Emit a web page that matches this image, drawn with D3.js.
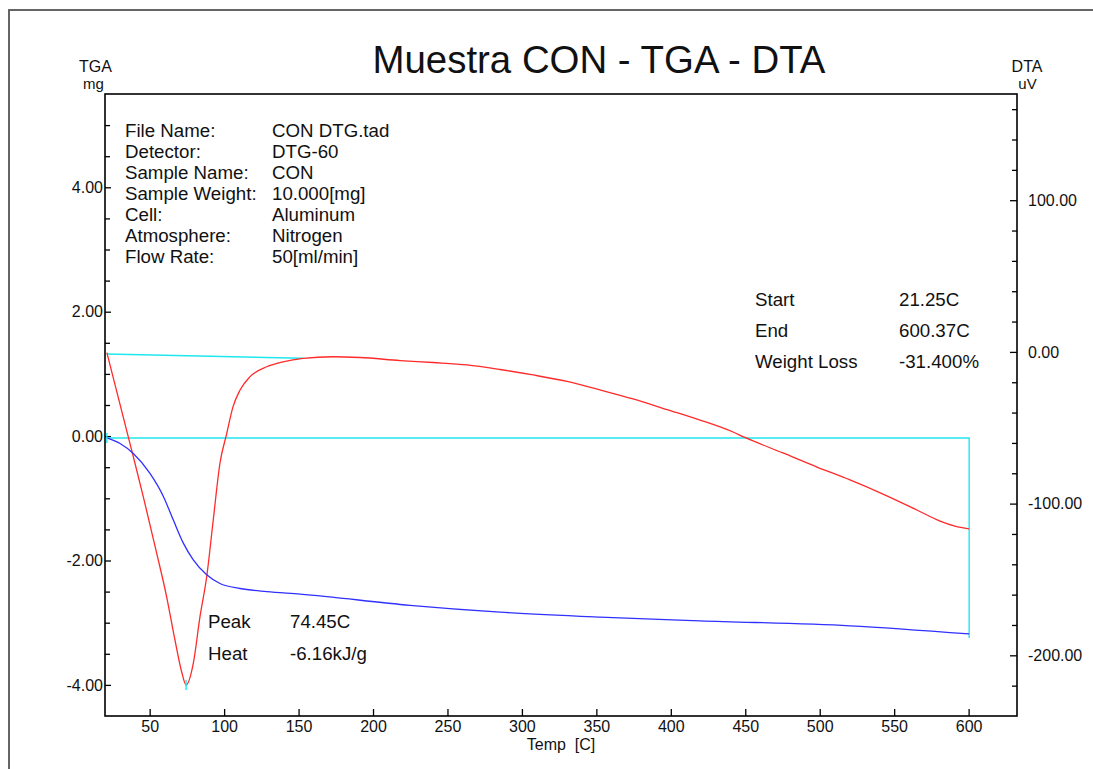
<!DOCTYPE html>
<html>
<head>
<meta charset="utf-8">
<script src="https://cdn.jsdelivr.net/npm/d3@7/dist/d3.min.js"></script>
<style>
  html, body { margin: 0; padding: 0; background: #fff; }
  svg { display: block; font-family: "Liberation Sans", Arial, sans-serif; }
  .axis path.domain { display: none; }
  .axis line { stroke: #000; stroke-width: 1.3; }
  .axis text { font-size: 16px; fill: #111; font-family: "Liberation Sans", Arial, sans-serif; }
</style>
</head>
<body>
<svg id="chart" width="1093" height="769"></svg>
<script>
// TGA curve: temperature [C] and mass change [mg]
const tgaTemp = [21.25, 30.1, 39.0, 50.2, 59.2, 65.9, 72.6, 79.3, 88.3, 97.2, 110.7, 128.6, 151.0, 224.8, 285.3, 352.4, 419.6, 520.3, 600.37];
const tgaMass = [-0.03, -0.12, -0.28, -0.60, -0.97, -1.35, -1.72, -1.99, -2.23, -2.37, -2.45, -2.50, -2.54, -2.72, -2.83, -2.91, -2.97, -3.05, -3.18];

// DTA curve: temperature [C] and signal [uV]
const dtaTemp = [21.25, 37.9, 45.7, 54.7, 61.4, 67.0, 71.5, 74.45, 79.3, 83.8, 88.3, 92.7, 97.2, 101.7, 106.0, 110.7, 117.4, 128.6, 139.5, 153.0, 173.1, 191.3, 218.1, 240.3, 263.1, 285.3, 307.4, 330.3, 352.4, 374.6, 397.4, 419.6, 441.8, 449.8, 475.3, 498.2, 520.3, 542.5, 565.3, 580.8, 590.8, 600.37];
const dtaSignal = [-0.5, -64.7, -95.4, -132.6, -161.4, -190.0, -211.0, -219.6, -205.3, -174.5, -148.2, -110.8, -73.4, -54.0, -36.1, -25.1, -16.3, -9.8, -6.5, -4.2, -3.2, -3.7, -5.7, -7.0, -8.6, -11.6, -15.2, -19.5, -25.1, -31.0, -38.0, -44.9, -52.8, -56.4, -66.6, -75.9, -84.4, -93.7, -104.2, -111.5, -114.8, -116.7];

// Peak integration baseline on the DTA curve
const dtaBaseTemp = [21.25, 153.0];
const dtaBaseSignal = [-1.4, -4.2];

// Weight-loss analysis range on the TGA curve
const tgaStartTemp = 21.25;
const tgaEndTemp = 600.37;
const tgaStartMass = -0.03;
const tgaEndMass = -3.18;
const peakTemp = 74.45;
const peakSignal = -219.6;

// Tick values
const tempTicks = [50, 100, 150, 200, 250, 300, 350, 400, 450, 500, 550, 600];
const tgaTicks = [-4, -2, 0, 2, 4];
const dtaTicks = [-200, -100, 0, 100];

// Text blocks
const infoLabels = ["File Name:", "Detector:", "Sample Name:", "Sample Weight:", "Cell:", "Atmosphere:", "Flow Rate:"];
const infoValues = ["CON DTG.tad", "DTG-60", "CON", "10.000[mg]", "Aluminum", "Nitrogen", "50[ml/min]"];
const rangeLabels = ["Start", "End", "Weight Loss"];
const rangeValues = ["21.25C", "600.37C", "-31.400%"];
const peakLabels = ["Peak", "Heat"];
const peakValues = ["74.45C", "-6.16kJ/g"];

const svg = d3.select("#chart");
const L = 105, R = 1017, T = 94, B = 716;

const x = d3.scaleLinear().domain([20, 632.5]).range([L, R]);
const yL = d3.scaleLinear().domain([-4.5, 5.5]).range([B, T]);
const yR = d3.scaleLinear().domain([-240, 170]).range([B, T]);
const fmt = d => d3.format(".2f")(d).replace("\u2212", "-");

// outer page frame
svg.append("rect")
  .attr("x", 9).attr("y", 10).attr("width", 1100).attr("height", 800)
  .attr("fill", "none").attr("stroke", "#555").attr("stroke-width", 1.8);

// title
svg.append("text")
  .attr("x", 599).attr("y", 73)
  .attr("text-anchor", "middle")
  .attr("font-size", 38.4).attr("fill", "#111")
  .text("Muestra CON - TGA - DTA");

// axis titles
const axTitle = (tx, ty, s, fs) => svg.append("text")
  .attr("x", tx).attr("y", ty).attr("text-anchor", "middle")
  .attr("font-size", fs).attr("fill", "#111").text(s);
axTitle(95.5, 72, "TGA", 16);
axTitle(93.5, 89, "mg", 15);
axTitle(1027, 72, "DTA", 16);
axTitle(1027.5, 89, "uV", 15);

// left axis (TGA)
const tgaMinor = d3.range(-4, 5.01, 0.5).filter(v => !tgaTicks.includes(v));
svg.append("g").attr("class", "axis").attr("transform", `translate(${L},0)`)
  .call(d3.axisRight(yL).tickValues(tgaMinor).tickSize(5).tickFormat(""));
svg.append("g").attr("class", "axis").attr("transform", `translate(${L},0)`)
  .call(d3.axisLeft(yL).tickValues(tgaTicks).tickSize(-6).tickPadding(2).tickFormat(fmt));

// right axis (DTA)
const dtaMinor = d3.range(-220, 161, 20).filter(v => !dtaTicks.includes(v));
svg.append("g").attr("class", "axis").attr("transform", `translate(${R},0)`)
  .call(d3.axisLeft(yR).tickValues(dtaMinor).tickSize(5).tickFormat(""));
svg.append("g").attr("class", "axis").attr("transform", `translate(${R},0)`)
  .call(d3.axisRight(yR).tickValues(dtaTicks).tickSize(-7).tickPadding(11).tickFormat(fmt));

// bottom axis (temperature)
svg.append("g").attr("class", "axis").attr("transform", `translate(0,${B})`)
  .call(d3.axisBottom(x).tickValues(tempTicks).tickSize(-7).tickPadding(5).tickFormat(d3.format("d")));

svg.append("text")
  .attr("x", 561).attr("y", 750).attr("text-anchor", "middle")
  .attr("font-size", 16).attr("fill", "#111")
  .attr("xml:space", "preserve").style("white-space", "pre")
  .text("Temp  [C]");

// plot box
svg.append("rect")
  .attr("x", L).attr("y", T).attr("width", R - L).attr("height", B - T)
  .attr("fill", "none").attr("stroke", "#000").attr("stroke-width", 1.6);

const cyan = "#1ee8ee";

// TGA analysis lines
svg.append("path")
  .attr("d", d3.line()([
    [x(tgaStartTemp), yL(tgaStartMass)],
    [x(tgaEndTemp), yL(tgaStartMass)],
    [x(tgaEndTemp), yL(tgaEndMass) + 4]
  ]))
  .attr("fill", "none").attr("stroke", cyan).attr("stroke-width", 1.4);

// DTA baseline
svg.append("path")
  .attr("d", d3.line().x(d => x(d[0])).y(d => yR(d[1]))(d3.zip(dtaBaseTemp, dtaBaseSignal)))
  .attr("fill", "none").attr("stroke", cyan).attr("stroke-width", 1.4);

// DTA curve
svg.append("path")
  .attr("d", d3.line().x(d => x(d[0])).y(d => yR(d[1])).curve(d3.curveMonotoneX)(d3.zip(dtaTemp, dtaSignal)))
  .attr("fill", "none").attr("stroke", "#ff2a2a").attr("stroke-width", 1.3);

// TGA curve
svg.append("path")
  .attr("d", d3.line().x(d => x(d[0])).y(d => yL(d[1])).curve(d3.curveMonotoneX)(d3.zip(tgaTemp, tgaMass)))
  .attr("fill", "none").attr("stroke", "#3030ff").attr("stroke-width", 1.3);

// small cyan markers at analysis points
const mark = (px, py) => svg.append("line")
  .attr("x1", px).attr("x2", px).attr("y1", py - 5).attr("y2", py + 5)
  .attr("stroke", cyan).attr("stroke-width", 1.4);
mark(x(peakTemp), yR(peakSignal));
mark(x(tgaStartTemp), yL(tgaStartMass));

// text blocks
const block = (labels, values, lx, vx, y0, dy) => {
  labels.forEach((s, i) => {
    svg.append("text").attr("x", lx).attr("y", y0 + i * dy)
      .attr("font-size", 18.7).attr("fill", "#111").text(s);
    svg.append("text").attr("x", vx).attr("y", y0 + i * dy)
      .attr("font-size", 18.7).attr("fill", "#111").text(values[i]);
  });
};
block(infoLabels, infoValues, 125, 272, 136.5, 21.1);
block(rangeLabels, rangeValues, 755, 899, 305.5, 31);
block(peakLabels, peakValues, 208, 290, 628.3, 31.7);
</script>
</body>
</html>
